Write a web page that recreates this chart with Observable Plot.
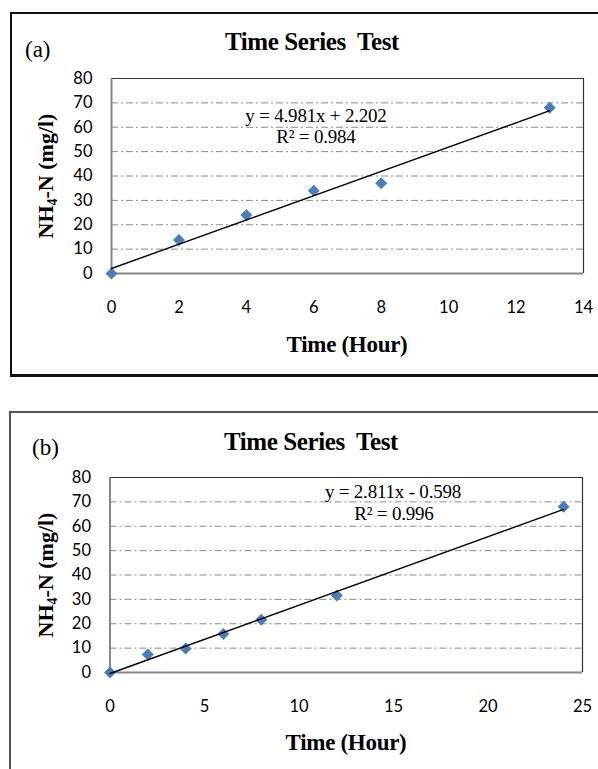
<!DOCTYPE html>
<html>
<head>
<meta charset="utf-8">
<script src="https://cdn.jsdelivr.net/npm/d3@7"></script>
<script src="https://cdn.jsdelivr.net/npm/@observablehq/plot@0.6"></script>
<style>
  html, body { margin: 0; padding: 0; background: #fff; }
  #page { position: relative; width: 598px; height: 769px; overflow: hidden; background: #fff; }
  .abs { position: absolute; }
  .panelA { left: 10px; top: 12px; width: 640px; height: 365px; box-sizing: border-box;
            border: 2px solid #111; border-bottom-width: 3px; }
  .panelB { left: 9px; top: 411px; width: 640px; height: 500px; box-sizing: border-box;
            border: 2px solid #555; }
  .serif { font-family: "Liberation Serif", "Times New Roman", serif; color: #000; white-space: pre; }
  .title { font-weight: bold; font-size: 25px; line-height: 25px; width: 400px; text-align: center; letter-spacing: -0.4px; }
  .tag { font-size: 23px; line-height: 23px; }
  .xlab { font-weight: bold; font-size: 23px; line-height: 23px; width: 300px; text-align: center; letter-spacing: -0.3px; }
  .ylab { font-weight: bold; font-size: 22px; line-height: 24px; width: 220px; height: 24px; text-align: center; transform: rotate(-90deg); }
  .ylab sub { font-size: 14px; vertical-align: -4px; line-height: 0; }
  .eq { font-size: 19px; line-height: 19px; width: 240px; text-align: center; letter-spacing: -0.2px; }
  svg { position: absolute; left: 0; }
</style>
</head>
<body>
<div id="page">
  <div class="abs panelA"></div>
  <div class="abs panelB"></div>
</div>
<script>
// ---- data: panel (a)
const timeA = [0, 2, 4, 6, 8, 13];
const nh4A  = [0, 13.7, 24, 34, 37, 68];
const xTicksA = [0, 2, 4, 6, 8, 10, 12, 14];
const eqA = ["y = 4.981x + 2.202", "R\u00B2 = 0.984"];

// ---- data: panel (b)
const timeB = [0, 2, 4, 6, 8, 12, 24];
const nh4B  = [0, 7.4, 9.8, 15.8, 21.6, 31.6, 68];
const xTicksB = [0, 5, 10, 15, 20, 25];
const eqB = ["y = 2.811x - 0.598", "R\u00B2 = 0.996"];

const yTicks = [0, 10, 20, 30, 40, 50, 60, 70, 80];
const gridTicks = [10, 20, 30, 40, 50, 60, 70];
const titleText = "Time Series  Test";
const xLabelText = "Time (Hour)";

const page = document.getElementById("page");

function makePlot(times, vals, xDomain, xTicks, m, h) {
  const data = times.map((t, i) => ({t, v: vals[i]}));
  return Plot.plot({
    width: 598,
    height: h,
    marginLeft: m.left, marginRight: m.right, marginTop: m.top, marginBottom: m.bottom,
    style: {fontFamily: "Lato, 'Open Sans', sans-serif", fontSize: "16.5px", color: "#000", background: "transparent", overflow: "visible"},
    x: {domain: xDomain, ticks: xTicks},
    y: {domain: [0, 80], ticks: yTicks},
    marks: [
      Plot.ruleY(gridTicks, {stroke: "#8a8a8a", strokeWidth: 1, strokeDasharray: "7,3,2,3"}),
      Plot.ruleY([80], {stroke: "#333", strokeWidth: 1.2}),
      Plot.ruleX([xDomain[1]], {stroke: "#333", strokeWidth: 1.2}),
      Plot.ruleX([0], {stroke: "#868686", strokeWidth: 2}),
      Plot.ruleY([0], {stroke: "#868686", strokeWidth: 2}),
      Plot.axisX({ticks: xTicks, tickSize: 0, tickPadding: 28, label: null}),
      Plot.axisY({ticks: yTicks, tickSize: 0, tickPadding: 19, label: null}),
      Plot.dot(data, {x: "t", y: "v", symbol: "diamond2", r: 5.4, fill: "#4a7dbb", stroke: "none"}),
      Plot.linearRegressionY(data, {x: "t", y: "v", stroke: "#000", strokeWidth: 1.4, ci: 0})
    ]
  });
}

const svgA = makePlot(timeA, nh4A, [0, 14], xTicksA, {left: 111, right: 15, top: 78, bottom: 117}, 390);
svgA.style.top = "0px";
page.appendChild(svgA);

const svgB = makePlot(timeB, nh4B, [0, 25], xTicksB, {left: 109.5, right: 16, top: 87, bottom: 97}, 379);
svgB.style.top = "390px";
page.appendChild(svgB);

function addText(cls, html, left, top) {
  const d = document.createElement("div");
  d.className = "abs serif " + cls;
  d.innerHTML = html;
  d.style.left = left + "px";
  d.style.top = top + "px";
  page.appendChild(d);
  return d;
}

// baseline offset for line-height == font-size: 0.8375em
function panelTexts(o) {
  addText("title", titleText, o.titleX - 200, o.titleBase - 0.8375 * 25);
  addText("tag", o.tag, o.tagX, o.tagBase - 0.8375 * 23);
  addText("xlab", xLabelText, o.xlabX - 150, o.xlabBase - 0.8375 * 23);
  addText("ylab", "NH<sub>4</sub>-N (mg/l)", o.ylabX - 110, o.ylabY - 12);
  addText("eq", o.eq[0], o.eqX - 120, o.eqBase1 - 0.8375 * 19);
  addText("eq", o.eq[1], o.eqX2 - 120, o.eqBase2 - 0.8375 * 19);
}

panelTexts({tag: "(a)", tagX: 25, tagBase: 57, titleX: 312, titleBase: 50,
  xlabX: 347, xlabBase: 352, ylabX: 46, ylabY: 176,
  eq: eqA, eqX: 316, eqX2: 316, eqBase1: 122, eqBase2: 143});

panelTexts({tag: "(b)", tagX: 32, tagBase: 455, titleX: 311, titleBase: 450,
  xlabX: 346, xlabBase: 750, ylabX: 46, ylabY: 575,
  eq: eqB, eqX: 393, eqX2: 394, eqBase1: 498, eqBase2: 520});
</script>
</body>
</html>
